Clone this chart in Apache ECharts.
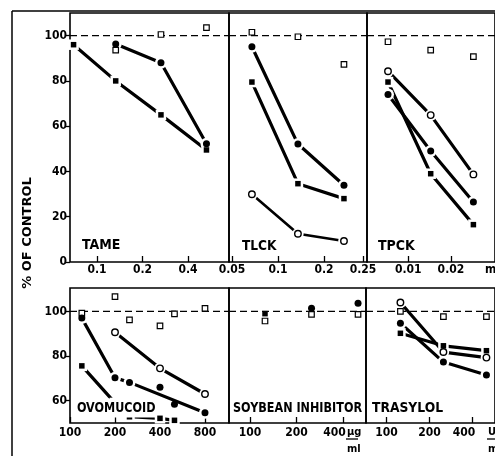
<!DOCTYPE html>
<html><head><meta charset="utf-8">
<script src="https://cdn.jsdelivr.net/npm/echarts@6.0.0/dist/echarts.min.js"></script>
<style>html,body{margin:0;padding:0;background:#fff}#c{width:495px;height:456px}</style>
</head><body><div id="c"></div>
<script>
// ---------------- data ----------------
// TAME (mM)
const tameX = [0.07, 0.133, 0.265, 0.53];
const tameFilledSquare = [96, 80, 65, 49.5];
const tameCircX = [0.133, 0.265, 0.53];
const tameFilledCircle = [96.3, 88, 52.2];
const tameOpenSquare = [93.6, 100.5, 103.5];
// TLCK (mM)
const tlckX = [0.0675, 0.135, 0.27];
const tlckFilledCircle = [95.1, 52.1, 33.9];
const tlckFilledSquare = [79.5, 34.6, 28];
const tlckOpenCircle = [29.9, 12.5, 9.3];
const tlckOpenSquare = [101.5, 99.5, 87.3];
// TPCK (mM)
const tpckX = [0.0072, 0.0144, 0.0288];
const tpckOpenCircle = [84.3, 64.9, 38.7];
const tpckFilledSquare = [79.5, 39, 16.5];
const tpckFilledCircle = [74, 49, 26.5];
const tpckOpenSquare = [97.3, 93.6, 90.7];
// OVOMUCOID (ug/ml)
const ovoOpenSqX = [120, 200, 250, 400, 500, 800];
const ovoOpenSquare = [99.2, 106.6, 96.2, 93.5, 98.9, 101.4];
const ovoCircLineX = [120, 200, 250, 800];
const ovoFilledCircle = [97, 70.3, 68.2, 54.6];
const ovoCircExtraX = [400, 500];
const ovoFilledCircleExtra = [66, 58.4];
const ovoOpenCircX = [200, 400, 800];
const ovoOpenCircle = [90.7, 74.5, 63];
const ovoSqX = [120, 200, 250, 400, 500];
const ovoFilledSquare = [75.6, 59, 52.8, 52.1, 51.2];
// SOYBEAN INHIBITOR (ug/ml)
const soyX = [125, 250, 500];
const soySqX = [125];
const soyFilledSquare = [99];
const soyCircX = [250, 500];
const soyFilledCircle = [101.4, 103.7];
const soyOpenSquare = [95.7, 98.7, 98.7];
// TRASYLOL (U/ml)
const trasX = [125, 250, 500];
const trasOpenCircle = [104, 81.8, 79.3];
const trasOpenSquare = [100, 97.7, 97.7];
const trasFilledCircle = [94.7, 77.3, 71.5];
const trasFilledSquare = [90.2, 84.6, 82.4];

// axes
const panelNames = ['TAME', 'TLCK', 'TPCK', 'OVOMUCOID', 'SOYBEAN INHIBITOR', 'TRASYLOL'];
const xRanges = [[0.0663, 0.747], [0.0478, 0.382], [0.00512, 0.0409], [100, 1158], [73.1, 563], [71.8, 574]];
const xTickVals = [[0.1, 0.2, 0.4], [0.05, 0.1, 0.2, 0.36], [0.01, 0.02], [100, 200, 400, 800], [100, 200, 400], [100, 200, 400]];
const xTickLabels = [['0.1', '0.2', '0.4'], ['0.05', '0.1', '0.2', '0.25'], ['0.01', '0.02'], ['100', '200', '400', '800'], ['100', '200', '400'], ['100', '200', '400']];
const yTicksTop = [0, 20, 40, 60, 80, 100];
const yTicksBottom = [60, 80, 100];
const yRangeTop = [0, 110];
const yRangeBottom = [50, 110.5];
const refValue = 100;
const yTitle = '% OF CONTROL';

// ---------------- layout / style ----------------
const FONT = '"DejaVu Sans Condensed","Liberation Sans Narrow","Arial Narrow","Liberation Sans",Arial,sans-serif';
const grids = [
  {left: 70, top: 13, width: 159, height: 249},
  {left: 229, top: 13, width: 138, height: 249},
  {left: 367, top: 13, width: 138, height: 249},
  {left: 70, top: 288, width: 159, height: 135},
  {left: 229, top: 288, width: 137, height: 135},
  {left: 366, top: 288, width: 138, height: 135}
];
const L2 = v => Math.log2(v);

const chart = echarts.init(document.getElementById('c'), null, {renderer: 'canvas'});

const xAxes = grids.map((g, i) => ({
  type: 'value', gridIndex: i,
  min: L2(xRanges[i][0]), max: L2(xRanges[i][1]),
  axisLine: {show: false}, splitLine: {show: false},
  axisTick: {show: true, inside: true, length: 6, lineStyle: {color: '#000', width: 1.3},
             customValues: xTickVals[i].map(L2)},
  axisLabel: {show: true, margin: i < 3 ? 2 : 4, color: '#000', fontSize: 12, fontWeight: 'bold', fontFamily: FONT,
              customValues: xTickVals[i].map(L2), hideOverlap: false,
              rich: {u: {fontSize: 12, fontWeight: 'bold', fontFamily: FONT, color: '#000', padding: [0, 17, 0, 0]}},
              formatter: v => {
                const k = xTickVals[i].findIndex(t => Math.abs(L2(t) - v) < 1e-6);
                if (k < 0) return '';
                const txt = xTickLabels[i][k];
                // last label of the panels that carry a unit is pushed left to make room for it
                return (i >= 4 && k === xTickVals[i].length - 1) ? '{u|' + txt + '}' : txt;
              }}
}));
const yAxes = grids.map((g, i) => {
  const top = i < 3, first = (i === 0 || i === 3);
  const r = top ? yRangeTop : yRangeBottom;
  const ticks = top ? yTicksTop : yTicksBottom;
  return {
    type: 'value', gridIndex: i, min: r[0], max: r[1],
    axisLine: {show: false}, splitLine: {show: false},
    axisTick: {show: first, inside: false, length: 5, lineStyle: {color: '#000', width: 1.3}, customValues: ticks},
    axisLabel: {show: first, margin: 3, color: '#000', fontSize: 12, fontWeight: 'bold', fontFamily: FONT,
                customValues: ticks, showMinLabel: true, hideOverlap: false}
  };
});

const series = [];
const SHAPES = {
  fc: {symbol: 'circle', size: 7, style: {color: '#000', opacity: 1}},
  fs: {symbol: 'rect', size: 5.5, style: {color: '#000', opacity: 1}},
  oc: {symbol: 'circle', size: 6.5, style: {color: '#fff', borderColor: '#000', borderWidth: 1.4, opacity: 1}},
  os: {symbol: 'rect', size: 5.5, style: {color: '#fff', borderColor: '#000', borderWidth: 1.2, opacity: 1}}
};
function addSet(gi, xs, ys, kind, lineW) {
  const data = xs.map((x, k) => [L2(x), ys[k]]);
  const s = SHAPES[kind];
  if (lineW) {
    series.push({type: 'line', xAxisIndex: gi, yAxisIndex: gi, data, symbol: 'none', silent: true,
      lineStyle: {color: '#000', width: lineW, cap: 'butt'}, z: 2, animation: false});
    series.push({type: 'scatter', xAxisIndex: gi, yAxisIndex: gi, data, symbol: s.symbol, symbolSize: s.size + 5,
      itemStyle: {color: '#fff', opacity: 1}, silent: true, z: 3, animation: false});
  }
  series.push({type: 'scatter', xAxisIndex: gi, yAxisIndex: gi, data, symbol: s.symbol, symbolSize: s.size,
    itemStyle: s.style, silent: true, z: 4, animation: false});
}
// reference dashed line at 100 in every panel
grids.forEach((g, i) => {
  series.push({type: 'line', xAxisIndex: i, yAxisIndex: i, symbol: 'none', silent: true, animation: false, z: 1,
    data: [[L2(xRanges[i][0]), refValue], [L2(xRanges[i][1]), refValue]],
    lineStyle: {color: '#000', width: 1.3, type: [7, 4]}});
});
// TAME
addSet(0, tameX, tameFilledSquare, 'fs', 3.2);
addSet(0, tameCircX, tameFilledCircle, 'fc', 3.2);
addSet(0, tameCircX, tameOpenSquare, 'os', 0);
// TLCK
addSet(1, tlckX, tlckFilledCircle, 'fc', 3.2);
addSet(1, tlckX, tlckFilledSquare, 'fs', 3.2);
addSet(1, tlckX, tlckOpenCircle, 'oc', 2.6);
addSet(1, tlckX, tlckOpenSquare, 'os', 0);
// TPCK
addSet(2, tpckX, tpckOpenCircle, 'oc', 3.2);
addSet(2, tpckX, tpckFilledSquare, 'fs', 3.2);
addSet(2, tpckX, tpckFilledCircle, 'fc', 3.2);
addSet(2, tpckX, tpckOpenSquare, 'os', 0);
// OVOMUCOID
addSet(3, ovoOpenSqX, ovoOpenSquare, 'os', 0);
addSet(3, ovoCircLineX, ovoFilledCircle, 'fc', 3.2);
addSet(3, ovoCircExtraX, ovoFilledCircleExtra, 'fc', 0);
addSet(3, ovoOpenCircX, ovoOpenCircle, 'oc', 3.2);
addSet(3, ovoSqX, ovoFilledSquare, 'fs', 3.2);
// SOYBEAN
addSet(4, soyX, soyOpenSquare, 'os', 0);
addSet(4, soySqX, soyFilledSquare, 'fs', 0);
addSet(4, soyCircX, soyFilledCircle, 'fc', 0);
// TRASYLOL
addSet(5, trasX, trasOpenSquare, 'os', 0);
addSet(5, trasX, trasOpenCircle, 'oc', 3.2);
addSet(5, trasX, trasFilledCircle, 'fc', 3.2);
addSet(5, trasX, trasFilledSquare, 'fs', 3.2);

const labelPos = [[82, 245], [242, 246], [378, 246], [76, 408], [233, 408], [372, 408]];
const labelScale = [1, 0.97, 1, 0.89, 0.89, 0.98];
const bold = (s, extra) => Object.assign({fill: '#000', font: 'bold ' + s + 'px ' + FONT}, extra || {});
const graphic = [
  {type: 'line', shape: {x1: 12, y1: 11, x2: 495, y2: 11}, style: {stroke: '#000', lineWidth: 1.5}, z: 10},
  {type: 'line', shape: {x1: 12, y1: 11, x2: 12, y2: 456}, style: {stroke: '#000', lineWidth: 1.5}, z: 10},
  {type: 'text', x: 28, y: 233, rotation: Math.PI / 2, scaleX: 1.2,
    style: bold(12, {text: yTitle, textAlign: 'center', textVerticalAlign: 'middle'}), z: 10},
  {type: 'text', x: 485, y: 270, style: bold(12, {text: 'mM', textVerticalAlign: 'middle'}), z: 10},
  {type: 'text', x: 347, y: 432, style: bold(11, {text: 'µg', textVerticalAlign: 'middle'}), z: 10},
  {type: 'line', shape: {x1: 346, y1: 439, x2: 358, y2: 439}, style: {stroke: '#000', lineWidth: 1.3}, z: 10},
  {type: 'text', x: 347, y: 449, style: bold(11, {text: 'ml', textVerticalAlign: 'middle'}), z: 10},
  {type: 'text', x: 488, y: 432, style: bold(11, {text: 'U', textVerticalAlign: 'middle'}), z: 10},
  {type: 'line', shape: {x1: 487, y1: 439, x2: 497, y2: 439}, style: {stroke: '#000', lineWidth: 1.3}, z: 10},
  {type: 'text', x: 488, y: 449, style: bold(11, {text: 'ml', textVerticalAlign: 'middle'}), z: 10}
];
panelNames.forEach((n, i) => {
  graphic.push({type: 'text', x: labelPos[i][0], y: labelPos[i][1], scaleX: labelScale[i], z: 20,
    style: bold(14, {text: n, textVerticalAlign: 'middle', backgroundColor: i === 3 ? '#fff' : null, padding: i === 3 ? [2, 1, 3, 1] : 0})});
});

chart.setOption({
  animation: false,
  backgroundColor: '#fff',
  grid: grids.map(g => Object.assign({show: true, borderColor: '#000', borderWidth: 1.6, backgroundColor: 'transparent', containLabel: false}, g)),
  xAxis: xAxes,
  yAxis: yAxes,
  series,
  graphic
});
</script></body></html>
